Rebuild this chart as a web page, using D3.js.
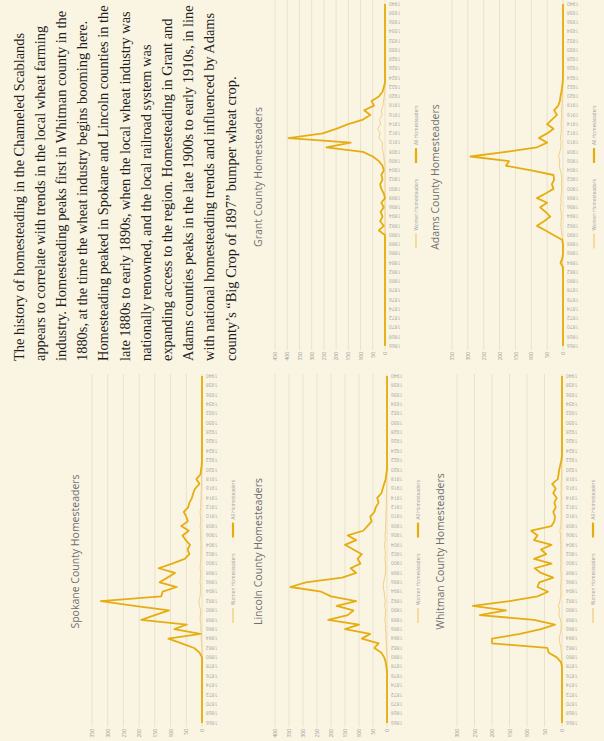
<!DOCTYPE html>
<html><head><meta charset="utf-8">
<script src="https://cdn.jsdelivr.net/npm/d3@7"></script>
<style>html,body{margin:0;padding:0;background:#faf5e3;overflow:hidden}</style>
</head><body><svg id="c" width="604" height="741"></svg>
<script>
const years = [1866,1867,1868,1869,1870,1871,1872,1873,1874,1875,1876,1877,1878,1879,1880,1881,1882,1883,1884,1885,1886,1887,1888,1889,1890,1891,1892,1893,1894,1895,1896,1897,1898,1899,1900,1901,1902,1903,1904,1905,1906,1907,1908,1909,1910,1911,1912,1913,1914,1915,1916,1917,1918,1919,1920,1921,1922,1923,1924,1925,1926,1927,1928,1929,1930,1931,1932,1933,1934,1935,1936,1937,1938,1939,1940];
const yearTicks = [1866,1868,1870,1872,1874,1876,1878,1880,1882,1884,1886,1888,1890,1892,1894,1896,1898,1900,1902,1904,1906,1908,1910,1912,1914,1916,1918,1920,1922,1924,1926,1928,1930,1932,1934,1936,1938,1940];

const spokaneTicks = [0,50,100,150,200,250,300,350];
const lincolnTicks = [0,50,100,150,200,250,300,350,400];
const grantTicks = [0,50,100,150,200,250,300,350,400,450];
const whitmanTicks = [0,50,100,150,200,250,300];
const adamsTicks = [0,50,100,150,200,250,300,350];

const spokaneAll = [0,0,0,0,0,0,0,0,0,0,0,0,0,0,0,
 8,25,65,107,5,88,48,193,150,105,215,322,130,125,80,135,110,86,138,95,55,40,46,38,52,62,42,66,45,50,58,44,40,32,28,22,8,18,5,3,1,
 0,0,0,0,0,0,0,0,0,0,0,0,0,0,0,0,0,0,0];
const spokaneWomen = [0,0,0,0,0,0,0,0,0,0,0,0,0,0,0,0,0,
 1,3,1,4,3,6,5,4,8,10,6,5,4,6,5,4,6,5,4,3,4,3,4,5,4,6,4,5,6,4,4,3,3,2,1,2,1,
 0,0,0,0,0,0,0,0,0,0,0,0,0,0,0,0,0,0,0,0,0];
const lincolnAll = [0,0,0,0,0,0,0,0,0,0,0,0,
 2,5,10,20,45,30,90,60,150,100,210,140,120,180,110,200,235,345,290,160,110,130,95,105,90,120,150,110,140,85,70,55,60,45,40,30,35,20,15,10,5,3,
 0,0,0,0,0,0,0,0,0,0,0,0,0,0,0,0,0,0,0,0,0];
const lincolnWomen = [0,0,0,0,0,0,0,0,0,0,0,0,0,0,0,
 1,2,2,4,3,6,5,8,6,5,8,6,9,10,14,12,8,6,5,6,7,6,7,9,6,7,5,5,4,4,3,3,2,2,2,1,1,1,0,0,
 0,0,0,0,0,0,0,0,0,0,0,0,0,0,0,0,0,0,0,0];
const grantAll = [0,0,0,0,0,0,0,0,0,0,0,0,0,0,0,0,0,0,0,0,0,0,0,0,0,
 25,5,20,10,18,5,15,0,5,15,20,10,15,5,10,25,50,90,240,140,395,255,200,150,90,60,85,45,55,25,10,5,
 0,0,0,0,0,0,0,0,0,0,0,0,0,0,0,0,0,0];
const grantWomen = [0,0,0,0,0,0,0,0,0,0,0,0,0,0,0,0,0,0,0,0,0,0,0,0,0,0,0,0,0,0,0,0,0,0,0,0,0,0,0,0,
 3,5,8,12,10,25,20,30,18,22,12,15,8,6,3,1,
 0,0,0,0,0,0,0,0,0,0,0,0,0,0,0,0,0,0,0];
const whitmanAll = [0,0,0,0,0,0,0,0,0,0,0,0,0,
 3,15,38,42,200,200,120,60,20,80,235,160,255,150,70,40,70,65,25,60,78,30,80,45,60,30,80,70,88,30,22,20,25,18,22,15,25,18,28,12,10,8,5,2,
 0,0,0,0,0,0,0,0,0,0,0,0,0,0,0,0,0,0];
const whitmanWomen = [0,0,0,0,0,0,0,0,0,0,0,0,0,0,
 1,2,3,6,8,5,3,2,4,9,7,10,6,4,3,4,3,2,3,4,3,4,3,4,3,5,4,6,3,3,2,3,2,3,2,3,2,3,1,1,1,1,0,0,
 0,0,0,0,0,0,0,0,0,0,0,0,0,0,0,0,0];
const adamsAll = [0,0,0,0,0,0,0,0,0,0,0,0,0,0,0,0,0,0,
 8,2,0,0,0,3,30,55,82,60,40,55,72,50,82,55,30,35,28,30,100,180,170,292,180,82,50,76,50,30,50,35,19,28,15,10,8,5,3,1,
 0,0,0,0,0,0,0,0,0,0,0,0,0,0,0,0,0];
const adamsWomen = [0,0,0,0,0,0,0,0,0,0,0,0,0,0,0,0,0,0,
 2,1,0,0,0,1,3,5,7,6,5,6,8,6,7,5,4,5,4,5,8,12,10,14,10,7,6,8,6,5,6,5,4,5,3,3,2,2,1,1,1,0,
 0,0,0,0,0,0,0,0,0,0,0,0,0,0,0];

const seriesNames = ["Women Homesteaders","All Homesteaders"];
const paragraph = [
 "The history of homesteading in the Channeled Scablands",
 "appears to correlate with trends in the local wheat farming",
 "industry. Homesteading peaks first in Whitman county in the",
 "1880s, at the time the wheat industry begins booming here.",
 "Homesteading peaked in Spokane and Lincoln counties in the",
 "late 1880s to early 1890s, when the local wheat industry was",
 "nationally renowned, and the local railroad system was",
 "expanding access to the region. Homesteading in Grant and",
 "Adams counties peaks in the late 1900s to early 1910s, in line",
 "with national homesteading trends and influenced by Adams",
 "county\u2019s \u201cBig Crop of 1897\u201d bumper wheat crop."
];

const COL_ALL = "#e6ad10", COL_WOMEN = "#f3cf84";
const svg = d3.select("#c");
svg.append("rect").attr("width",604).attr("height",741).attr("fill","#faf5e3");
// page is drawn rotated a quarter turn counter-clockwise
const page = svg.append("g").attr("transform","translate(0,741) rotate(-90)");

// paragraph
const para = page.append("text").attr("font-family","'Liberation Serif','Times New Roman',serif")
  .attr("font-size",14.4).attr("fill","#1e1e1e");
paragraph.forEach((l,i)=>{
  para.append("tspan").attr("x",380).attr("y",23.5+21.2*i).text(l);
});

const cols = {L:{a:14,f:18,l:365,e:367}, R:{a:391,f:395,l:737,e:745}};
const charts = [
 {title:"Spokane County Homesteaders", all:spokaneAll, women:spokaneWomen, ticks:spokaneTicks, col:"L", v0:92, v1:202},
 {title:"Lincoln County Homesteaders", all:lincolnAll, women:lincolnWomen, ticks:lincolnTicks, col:"L", v0:275, v1:387},
 {title:"Whitman County Homesteaders", all:whitmanAll, women:whitmanWomen, ticks:whitmanTicks, col:"L", v0:457, v1:562},
 {title:"Grant County Homesteaders", all:grantAll, women:grantWomen, ticks:grantTicks, col:"R", v0:275, v1:385},
 {title:"Adams County Homesteaders", all:adamsAll, women:adamsWomen, ticks:adamsTicks, col:"R", v0:452, v1:563}
];

charts.forEach(c=>{
  const col = cols[c.col];
  const g = page.append("g");
  const x = d3.scalePoint().domain(years).range([col.f, col.l]);
  const y = d3.scaleLinear().domain([0, d3.max(c.ticks)]).range([c.v1, c.v0]);
  const uc = (col.a + col.l)/2;
  g.append("g").selectAll("line").data(c.ticks).join("line")
    .attr("x1",col.a).attr("x2",col.e).attr("y1",d=>y(d)).attr("y2",d=>y(d))
    .attr("stroke","#e4dcc8").attr("stroke-width",0.8);
  const ya = g.append("g").attr("transform",`translate(${col.a},0)`)
    .call(d3.axisLeft(y).tickValues(c.ticks).tickSize(0).tickPadding(2));
  ya.select(".domain").remove();
  ya.selectAll("text").attr("font-family","'Open Sans',sans-serif").attr("font-size",5).attr("fill","#999");
  const xa = g.append("g").attr("transform",`translate(0,${c.v1+3})`)
    .call(d3.axisBottom(x).tickValues(yearTicks).tickSize(0));
  xa.select(".domain").remove();
  xa.selectAll("text").attr("font-family","'Open Sans',sans-serif").attr("font-size",5).attr("fill","#a5a5a5")
    .attr("x",-1).attr("y",0).attr("dy","0.35em").attr("transform","rotate(-90)").style("text-anchor","end");
  const line = d3.line().x((d,i)=>x(years[i])).y(d=>y(d));
  g.append("path").datum(c.women).attr("d",line).attr("fill","none").attr("stroke",COL_WOMEN).attr("stroke-width",1);
  g.append("path").datum(c.all).attr("d",line).attr("fill","none").attr("stroke",COL_ALL).attr("stroke-width",1.8).attr("stroke-linejoin","round");
  g.append("text").attr("x",uc).attr("y",c.v0-13).attr("text-anchor","middle")
    .attr("font-family","'Open Sans',sans-serif").attr("font-size",10.5).attr("fill","#6e6e6e").text(c.title);
  const lg = g.append("g");
  const cols2 = [COL_WOMEN, COL_ALL], widths=[1,1.8];
  let u = 0;
  seriesNames.forEach((n,i)=>{
    const it = lg.append("g");
    it.append("line").attr("x1",0).attr("x2",15).attr("y1",0).attr("y2",0).attr("stroke",cols2[i]).attr("stroke-width",widths[i]+0.4);
    const t = it.append("text").attr("x",18).attr("y",1.7).attr("font-family","'Open Sans',sans-serif").attr("font-size",4.8).attr("fill","#999").text(n);
    const w = 18 + t.node().getComputedTextLength();
    it.attr("transform",`translate(${u},0)`);
    u += w + 16;
  });
  const total = u - 16;
  lg.attr("transform",`translate(${uc-total/2},${c.v1+31})`);
});
</script></body></html>
